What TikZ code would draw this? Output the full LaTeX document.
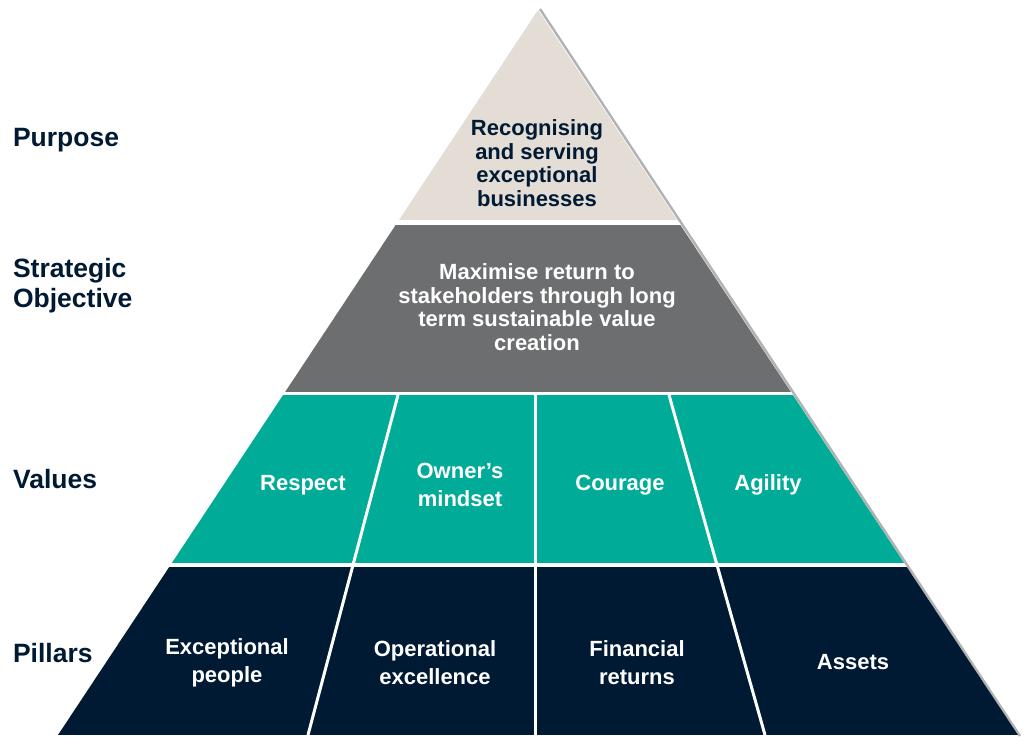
\documentclass[tikz,border=0pt]{standalone}
\usepackage{fontspec}
\setmainfont{Liberation Sans}
\definecolor{sand}{HTML}{E4DDD6}
\definecolor{slate}{HTML}{6D6E70}
\definecolor{jade}{HTML}{00AB97}
\definecolor{ink}{HTML}{011A33}
\begin{document}
\begin{tikzpicture}[x=0.5pt,y=-0.5pt,
    lbl/.style={anchor=west,text=ink,align=left,font=\bfseries\fontsize{13.25}{15}\selectfont},
    txt/.style={align=center,font=\bfseries\fontsize{11}{11.75}\selectfont},
    cell/.style={txt,text=white,font=\bfseries\fontsize{11}{14}\selectfont}]
    \useasboundingbox (0,0) rectangle (1024,737);
    \draw[black!30,line width=1.2pt] (540,9)--(1020,736);% shadow
    \begin{scope}
        \clip (538,10)--(58,735)--(1018,735)--cycle;% pyramid
        \fill[sand] (0,0) rectangle (1024,220);
        \fill[slate] (0,225) rectangle (1024,392);
        \fill[jade] (0,395) rectangle (1024,563);
        \fill[ink] (0,567) rectangle (1024,737);
        \foreach \a/\b in {398/308,535/535,669/765}{\draw[white,line width=1.5pt] (\a,395)--(\b,735);
        }
    \end{scope}
    % left labels
    \node[lbl] (purpose) at (6,140) {Purpose};
    \node[lbl] (strategic) at (6,286) {Strategic\\Objective};
    \node[lbl] (values) at (6,479) {Values};
    \node[lbl] (pillars) at (6,653) {Pillars};
    % tiers
    \node[txt,text=ink] (recognising) at (537,163) {Recognising\\and serving\\exceptional\\businesses};
    \node[txt,text=white] (maximise) at (537,307) {Maximise return to\\stakeholders through long\\term sustainable value\\creation};
    \node[cell] (respect) at (303,485) {Respect};
    \node[cell] (owner) at (460,485) {Owner’s\\mindset};
    \node[cell] (courage) at (620,485) {Courage};
    \node[cell] (agility) at (768,485) {Agility};
    \node[cell] (people) at (227,663) {Exceptional\\people};
    \node[cell] (excellence) at (435,663) {Operational\\excellence};
    \node[cell] (returns) at (637,663) {Financial\\returns};
    \node[cell] (assets) at (853,662) {Assets};
\end{tikzpicture}
\end{document}
